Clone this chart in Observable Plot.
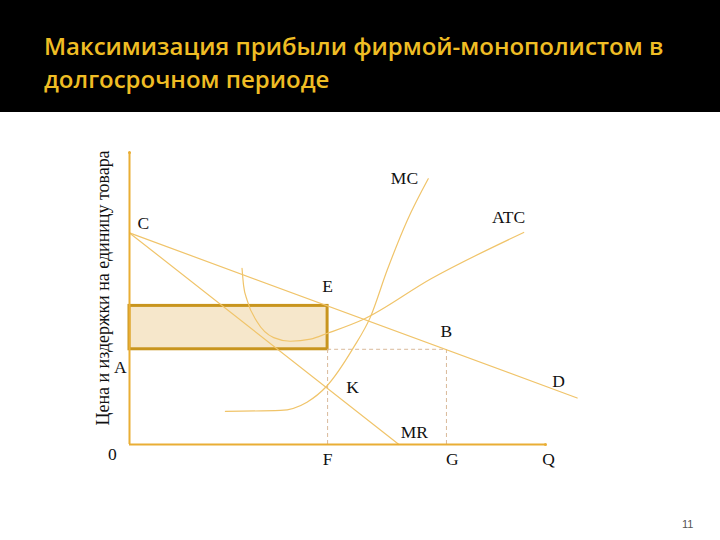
<!DOCTYPE html>
<html>
<head>
<meta charset="utf-8">
<script src="https://cdn.jsdelivr.net/npm/d3@7"></script>
<script src="https://cdn.jsdelivr.net/npm/@observablehq/plot@0.6"></script>
<style>
  html, body { margin: 0; padding: 0; background: #ffffff; width: 720px; height: 540px; overflow: hidden; }
  #header { background: #000; height: 112px; box-sizing: border-box; padding: 29px 0 0 44px; }
  #header h1 { margin: 0; font-family: "Open Sans", "Noto Sans", sans-serif; font-weight: 600; font-size: 24px; line-height: 33px; color: #EFBD24; letter-spacing: 0; }
  #chart { position: relative; }
  #page { position: absolute; left: 682px; top: 518px; font-family: "Liberation Sans", Arial, sans-serif; font-size: 11px; color: #555; }
</style>
</head>
<body>
<div id="header"><h1>Максимизация прибыли фирмой-монополистом в<br>долгосрочном периоде</h1></div>
<div id="chart"></div>
<div id="page">11</div>
<script>
// ---- data (quantity units on x, price units on y) ----
const demandQ = [0, 11.3];
const demandP = [10, 2.2];
const mrQ = [0, 6.8];
const mrP = [10, 0];
const mcQ = [2.42, 3.81, 4.48, 4.97, 5.66, 6.08, 6.50, 7.01, 7.54];
const mcP = [1.57, 1.61, 2.0, 2.74, 4.60, 6.02, 8.22, 10.59, 12.56];
const atcQ = [2.84, 2.88, 2.97, 3.22, 3.64, 4.06, 4.57, 5.0, 5.91, 7.6, 9.95];
const atcP = [8.33, 7.51, 6.81, 5.80, 5.05, 4.88, 4.98, 5.26, 5.92, 7.82, 10.02];
const qF = 5, qG = 8;          // output levels F and G
const priceA = 4.5, priceE = 6.55; // profit rectangle bottom (A) and top (E)
const labelNames = ["MC", "ATC", "C", "E", "B", "A", "K", "D", "MR", "0", "F", "G", "Q"];
const labelQ = [6.94, 9.57, 0.35, 5.0, 8.0, -0.23, 5.63, 10.83, 7.19, -0.43, 5.0, 8.15, 10.58];
const labelP = [12.57, 10.73, 10.44, 7.47, 5.34, 3.64, 2.69, 2.98, 0.57, -0.47, -0.71, -0.71, -0.71];
const yTitle = "Цена и издержки на единицу товара";
const yTitlePos = {q: -0.68, p: 7.4};
const xMax = 10.5, yMax = 13.8;

// ---- build tables ----
const zip = (qs, ps) => qs.map((q, i) => ({q, p: ps[i]}));
const demand = zip(demandQ, demandP);
const mr = zip(mrQ, mrP);
const mc = zip(mcQ, mcP);
const atc = zip(atcQ, atcP);
const labels = labelNames.map((t, i) => ({t, q: labelQ[i], p: labelP[i]}));

const curve = "#F0C46A";
const gold = "#E9AE35";
const dash = "#D9B99A";
const serif = "Liberation Serif, Times New Roman, serif";

const plot = Plot.plot({
  width: 720,
  height: 428,
  marginLeft: 129,
  marginRight: 175,
  marginTop: 40,
  marginBottom: 96,
  x: {domain: [0, xMax], axis: null},
  y: {domain: [0, yMax], axis: null},
  style: {background: "transparent", overflow: "visible"},
  marks: [
    // profit rectangle
    Plot.rect([{x1: 0, x2: qF, y1: priceA, y2: priceE}], {x1: "x1", x2: "x2", y1: "y1", y2: "y2", fill: "#F6E7CB", stroke: "#C8951E", strokeWidth: 3}),
    // dashed guides
    Plot.ruleY([priceA], {x1: qF, x2: qG, stroke: dash, strokeDasharray: "4,3", strokeWidth: 1}),
    Plot.ruleX([qF], {y1: 0, y2: priceA, stroke: dash, strokeDasharray: "4,3", strokeWidth: 1}),
    Plot.ruleX([qG], {y1: 0, y2: priceA, stroke: dash, strokeDasharray: "4,3", strokeWidth: 1}),
    // curves
    Plot.line(demand, {x: "q", y: "p", stroke: curve, strokeWidth: 1.2}),
    Plot.line(mr, {x: "q", y: "p", stroke: curve, strokeWidth: 1.2}),
    Plot.line(mc, {x: "q", y: "p", stroke: curve, strokeWidth: 1.2, curve: "monotone-x"}),
    Plot.line(atc, {x: "q", y: "p", stroke: curve, strokeWidth: 1.2, curve: "monotone-x"}),
    // axes
    Plot.ruleX([0], {y1: 0, y2: yMax, stroke: gold, strokeWidth: 2}),
    Plot.ruleY([0], {x1: 0, x2: xMax, stroke: gold, strokeWidth: 2}),
    Plot.dot([{q: 0, p: yMax}, {q: xMax, p: 0}], {x: "q", y: "p", r: 1.5, fill: gold}),
    // labels
    Plot.text(labels, {x: "q", y: "p", text: "t", fontSize: 17.5, fontFamily: serif, fill: "#111"}),
    Plot.text([yTitle], {x: () => yTitlePos.q, y: () => yTitlePos.p, text: d => d, rotate: -90, fontSize: 19, fontFamily: serif, fill: "#111", className: "ytitle"})
  ]
});
// stretch the rotated title to the length seen in the picture
d3.select(plot).selectAll(".ytitle text").attr("textLength", 275).attr("lengthAdjust", "spacingAndGlyphs");
document.getElementById("chart").appendChild(plot);
</script>
</body>
</html>
